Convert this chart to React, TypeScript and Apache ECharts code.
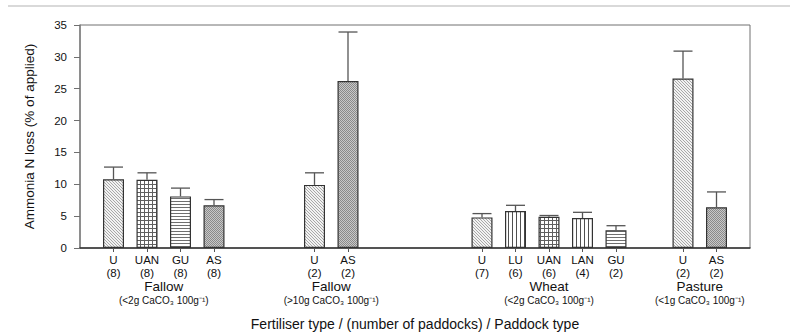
import React, { useEffect, useRef } from 'react';
import * as echarts from 'echarts';

// slot positions 0..20 along the x axis (empty slots separate the groups)
const slotLabels = ['', 'U', 'UAN', 'GU', 'AS', '', '', 'U', 'AS', '', '', '', 'U', 'LU', 'UAN', 'LAN', 'GU', '', 'U', 'AS', ''];
const paddockCounts = ['', '8', '8', '8', '8', '', '', '2', '2', '', '', '', '7', '6', '6', '4', '2', '', '2', '2', ''];
const lossValues: (number | null)[] = [null, 10.8, 10.7, 8.1, 6.7, null, null, 9.9, 26.2, null, null, null, 4.8, 5.8, 4.9, 4.7, 2.8, null, 26.6, 6.4, null];
const errorTops: (number | null)[] = [null, 12.7, 11.8, 9.4, 7.6, null, null, 11.8, 33.9, null, null, null, 5.4, 6.7, 5.1, 5.6, 3.5, null, 30.9, 8.8, null];
const patternKeys = ['', 'fine', 'grid', 'hline', 'dark', '', '', 'fine', 'dark', '', '', '', 'fine', 'vline', 'grid', 'vline', 'hline', '', 'fine', 'dark', ''];

const groupNames = ['Fallow', 'Fallow', 'Wheat', 'Pasture'];
const groupNotes = ['(<2g CaCO₃ 100g⁻¹)', '(>10g CaCO₃ 100g⁻¹)', '(<2g CaCO₃ 100g⁻¹)', '(<1g CaCO₃ 100g⁻¹)'];
const groupHalfSlots = [5, 15, 28, 37]; // group centres in half-slot units

const yMin = 0;
const yMax = 35;
const yStep = 5;

const FONT = '"Liberation Sans", Arial, sans-serif';

function makePattern(kind: string) {
  const c = document.createElement('canvas');
  let w = 4, h = 4;
  if (kind === 'fine') { w = 3; h = 3; }
  if (kind === 'hline') { w = 1; h = 3; }
  if (kind === 'vline') { w = 4; h = 1; }
  if (kind === 'dark') { w = 2; h = 2; }
  c.width = w; c.height = h;
  const g = c.getContext('2d')!;
  g.fillStyle = '#ffffff';
  g.fillRect(0, 0, w, h);
  if (kind === 'fine') {
    g.fillStyle = '#f2f2f2';
    g.fillRect(0, 0, w, h);
    g.fillStyle = '#a8a8a8';
    for (let i = 0; i < 3; i++) g.fillRect(i, i, 1, 1);
  } else if (kind === 'grid') {
    g.fillStyle = '#606060';
    g.fillRect(0, 0, w, 1);
    g.fillRect(0, 0, 1, h);
  } else if (kind === 'hline') {
    g.fillStyle = '#707070';
    g.fillRect(0, 0, w, 1);
  } else if (kind === 'vline') {
    g.fillStyle = '#505050';
    g.fillRect(0, 0, 1, h);
  } else if (kind === 'dark') {
    g.fillStyle = '#c8c8c8';
    g.fillRect(0, 0, w, h);
    g.fillStyle = '#8a8a8a';
    g.fillRect(0, 0, 1, 1);
    g.fillRect(1, 1, 1, 1);
  }
  return { image: c, repeat: 'repeat', imageWidth: w, imageHeight: h } as any;
}

export default function App() {
  const ref = useRef<HTMLDivElement>(null);
  useEffect(() => {
    document.body.style.margin = '0';
    const chart = echarts.init(ref.current!, null, { renderer: 'svg' });
    const patterns: Record<string, any> = {};
    ['fine', 'grid', 'hline', 'vline', 'dark'].forEach((k) => (patterns[k] = makePattern(k)));

    const cats = slotLabels.map((_, i) => 'c' + i);
    const halfCats = Array.from({ length: 41 }, (_, i) => 'h' + i);

    const barData = lossValues.map((v, i) =>
      v == null
        ? '-'
        : { value: v, itemStyle: { color: patterns[patternKeys[i]], borderColor: '#333333', borderWidth: 1.2 } }
    );
    const errData = lossValues
      .map((v, i) => (v == null ? null : [i, v, errorTops[i] as number]))
      .filter((d) => d != null);

    chart.setOption({
      animation: false,
      textStyle: { fontFamily: FONT },
      grid: { left: 80, right: 40, top: 25, bottom: 88, show: true, borderColor: '#707070', borderWidth: 1, backgroundColor: 'transparent' },
      graphic: [
        { type: 'line', shape: { x1: 8, y1: 6, x2: 790, y2: 6 }, style: { stroke: '#cccccc', lineWidth: 1.5 } },
      ],
      xAxis: [
        {
          type: 'category',
          data: cats,
          boundaryGap: false,
          position: 'bottom',
          axisLine: { lineStyle: { color: '#333', width: 1.5 } },
          axisTick: { show: true, length: 4, interval: (i: number) => slotLabels[i] !== '', lineStyle: { color: '#555' } },
          axisLabel: {
            interval: 0,
            margin: 5,
            fontSize: 11.5,
            lineHeight: 13,
            color: '#111',
            fontFamily: FONT,
            formatter: (_v: string, i: number) => (slotLabels[i] ? `${slotLabels[i]}\n(${paddockCounts[i]})` : ''),
          },
          name: 'Fertiliser type / (number of paddocks) / Paddock type',
          nameLocation: 'middle',
          nameGap: 69,
          nameTextStyle: { fontSize: 14, color: '#111', fontFamily: FONT },
        },
        {
          type: 'category',
          data: halfCats,
          boundaryGap: false,
          position: 'bottom',
          offset: 24,
          axisLine: { show: false },
          axisTick: { show: false },
          axisLabel: {
            interval: 0,
            margin: 6,
            color: '#111',
            fontFamily: FONT,
            formatter: (_v: string, i: number) => {
              const g = groupHalfSlots.indexOf(i);
              return g < 0 ? '' : `{a|${groupNames[g]}}\n{b|${groupNotes[g]}}`;
            },
            rich: {
              a: { fontSize: 13.5, lineHeight: 16, color: '#111', fontFamily: FONT },
              b: { fontSize: 10, lineHeight: 13, color: '#111', fontFamily: FONT },
            },
          },
        },
      ],
      yAxis: {
        type: 'value',
        min: yMin,
        max: yMax,
        interval: yStep,
        axisLine: { show: true, lineStyle: { color: '#808080', width: 1.5 } },
        axisTick: { show: true, length: 6, lineStyle: { color: '#707070' } },
        splitLine: { show: false },
        axisLabel: { fontSize: 11.5, color: '#111', margin: 13, fontFamily: FONT },
        name: 'Ammonia N loss (% of applied)',
        nameLocation: 'middle',
        nameRotate: 90,
        nameGap: 44,
        nameTextStyle: { fontSize: 13.5, color: '#111', fontFamily: FONT },
      },
      series: [
        {
          type: 'bar',
          xAxisIndex: 0,
          data: barData,
          barWidth: 21,
          z: 2,
        },
        {
          type: 'custom',
          xAxisIndex: 0,
          z: 3,
          data: errData,
          renderItem: (_p: any, api: any) => {
            const x = api.value(0);
            const v = api.value(1);
            const t = api.value(2);
            const p0 = api.coord([x, v]);
            const p1 = api.coord([x, t]);
            const half = 9.5;
            return {
              type: 'group',
              children: [
                { type: 'line', shape: { x1: p0[0], y1: p0[1], x2: p1[0], y2: p1[1] }, style: { stroke: '#555', lineWidth: 1.3 } },
                { type: 'line', shape: { x1: p1[0] - half, y1: p1[1], x2: p1[0] + half, y2: p1[1] }, style: { stroke: '#555', lineWidth: 1.3 } },
              ],
            };
          },
        },
      ],
    });
    return () => chart.dispose();
  }, []);
  return <div ref={ref} style={{ width: 790, height: 336 }} />;
}
